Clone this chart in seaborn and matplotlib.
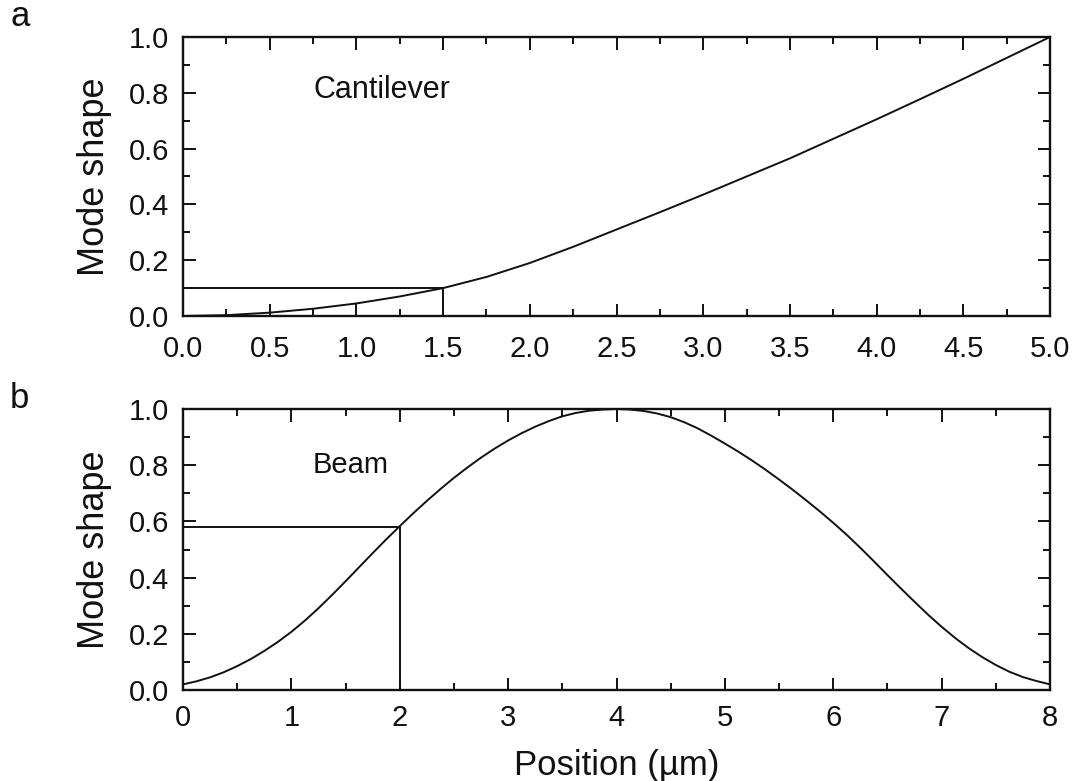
import numpy as np
import pandas as pd
import matplotlib
matplotlib.use("Agg")
import matplotlib.pyplot as plt
import seaborn as sns
from matplotlib.ticker import MultipleLocator

# ---- data ----
cant_x = [0.0, 0.25, 0.5, 0.75, 1.0, 1.25, 1.5, 1.75, 2.0, 2.25, 2.5,
          2.75, 3.0, 3.25, 3.5, 3.75, 4.0, 4.25, 4.5, 4.75, 5.0]
cant_y = [0.0, 0.003, 0.012, 0.026, 0.045, 0.07, 0.10, 0.14, 0.19, 0.248, 0.31,
          0.372, 0.435, 0.50, 0.565, 0.635, 0.705, 0.777, 0.85, 0.925, 1.0]

beam_x = [0.0, 0.125, 0.25, 0.375, 0.5, 0.625, 0.75, 0.875, 1.0, 1.125, 1.25, 1.375,
          1.5, 1.625, 1.75, 1.875, 2.0, 2.125, 2.25, 2.375, 2.5, 2.625, 2.75, 2.875,
          3.0, 3.125, 3.25, 3.375, 3.5, 3.625, 3.75, 3.875, 4.0, 4.125, 4.25, 4.375,
          4.5, 4.625, 4.75, 4.875, 5.0, 5.125, 5.25, 5.375, 5.5, 5.625, 5.75, 5.875,
          6.0, 6.125, 6.25, 6.375, 6.5, 6.625, 6.75, 6.875, 7.0, 7.125, 7.25, 7.375,
          7.5, 7.625, 7.75, 7.875, 8.0]
beam_y = [0.02, 0.031, 0.045, 0.063, 0.085, 0.110, 0.139, 0.171, 0.207, 0.247, 0.291, 0.338,
          0.387, 0.437, 0.487, 0.536, 0.583, 0.629, 0.673, 0.715, 0.755, 0.792, 0.827, 0.859,
          0.888, 0.914, 0.937, 0.957, 0.974, 0.986, 0.994, 0.998, 1.0, 0.998, 0.993, 0.984,
          0.971, 0.953, 0.931, 0.905, 0.877, 0.848, 0.817, 0.784, 0.749, 0.713, 0.675, 0.636,
          0.595, 0.552, 0.506, 0.458, 0.409, 0.361, 0.314, 0.268, 0.225, 0.185, 0.149, 0.117,
          0.089, 0.065, 0.046, 0.032, 0.02]

cant_mark_x = 1.5
cant_mark_y = 0.10
beam_mark_x = 2.0
beam_mark_y = 0.58

cant_xticks = [0.0, 0.5, 1.0, 1.5, 2.0, 2.5, 3.0, 3.5, 4.0, 4.5, 5.0]
beam_xticks = [0, 1, 2, 3, 4, 5, 6, 7, 8]
yticks = [0.0, 0.2, 0.4, 0.6, 0.8, 1.0]

sns.set_theme(style="ticks")
plt.rcParams['font.family'] = ['Liberation Sans', 'DejaVu Sans']

fig = plt.figure(figsize=(10.79, 7.81), dpi=100)
W, H = 1079, 781
def rect(l, t, r, b):
    return [l / W, 1 - b / H, (r - l) / W, (b - t) / H]

ax1 = fig.add_axes(rect(183, 37, 1050, 316))
ax2 = fig.add_axes(rect(183, 409, 1050, 690))

col = "#111111"
lw = 1.4

df1 = pd.DataFrame({"x": cant_x, "y": cant_y})
df2 = pd.DataFrame({"x": beam_x, "y": beam_y})
sns.lineplot(data=df1, x="x", y="y", ax=ax1, color=col, lw=lw, sort=False, estimator=None)
sns.lineplot(data=df2, x="x", y="y", ax=ax2, color=col, lw=lw, sort=False, estimator=None)

def guide(ax, mx, my):
    g = pd.DataFrame({"x": [0, mx, mx], "y": [my, my, 0]})
    sns.lineplot(data=g, x="x", y="y", ax=ax, color=col, lw=lw,
                 sort=False, estimator=None)

guide(ax1, cant_mark_x, cant_mark_y)
guide(ax2, beam_mark_x, beam_mark_y)

for ax, xt, xmax, xminor, xpad in [(ax1, cant_xticks, 5.0, 0.25, 14),
                                   (ax2, beam_xticks, 8.0, 0.5, 10)]:
    ax.set_xlim(0, xmax)
    ax.set_ylim(0, 1.0)
    ax.set_xticks(xt)
    ax.set_yticks(yticks)
    ax.xaxis.set_minor_locator(MultipleLocator(xminor))
    ax.yaxis.set_minor_locator(MultipleLocator(0.1))
    ax.tick_params(which='both', direction='in', top=True, right=True,
                   colors=col, labelsize=21, width=1.4)
    ax.tick_params(which='major', length=9)
    ax.tick_params(which='minor', length=5)
    ax.tick_params(axis='x', pad=xpad)
    ax.tick_params(axis='y', pad=10)
    for s in ax.spines.values():
        s.set_linewidth(1.7)
        s.set_color(col)
    ax.set_ylabel("Mode shape", fontsize=26, color=col, labelpad=12)
    ax.set_xlabel("")
    ax.set_facecolor("white")

ax1.set_xticklabels([f"{v:.1f}" for v in cant_xticks])
ax2.set_xticklabels([str(v) for v in beam_xticks])
ax1.set_yticklabels([f"{v:.1f}" for v in yticks])
ax2.set_yticklabels([f"{v:.1f}" for v in yticks])

ax1.text(0.75, 0.81, "Cantilever", fontsize=22, color=col, va="center", ha="left")
ax2.text(1.2, 0.80, "Beam", fontsize=21, color=col, va="center", ha="left")

ax2.set_xlabel("Position (µm)", fontsize=25, color=col, labelpad=12)

fig.text(10 / W, 1 - 16 / H, "a", fontsize=25, color=col, va="center", ha="left")
fig.text(10 / W, 1 - 399 / H, "b", fontsize=25, color=col, va="center", ha="left")

fig.savefig("out.png", dpi=100, facecolor="white")
